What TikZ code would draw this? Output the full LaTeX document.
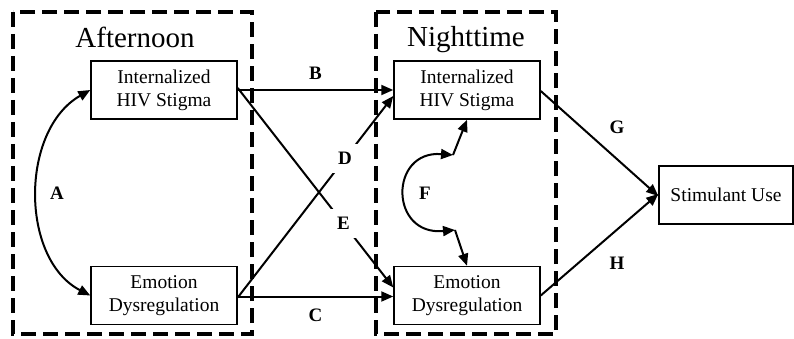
\documentclass[tikz,border=0pt]{standalone}
\usepackage{fontspec}
\setmainfont{Liberation Serif}
\usetikzlibrary{arrows.meta,calc}
\begin{document}
\begin{tikzpicture}[x=1pt,y=-1pt,
  var/.style={draw,line width=1.5pt,minimum width=146pt,minimum height=58pt,inner sep=0pt,align=center,font=\fontsize{19.5}{23}\selectfont},
  grp/.style={draw,line width=3.8pt,dash pattern=on 15pt off 7pt},
  title/.style={font=\fontsize{29}{32}\selectfont,anchor=base},
  lab/.style={font=\fontsize{19}{22}\selectfont\bfseries},
  gaplab/.style={lab,fill=white,inner sep=8pt},
  arr/.style={line width=2pt,-{Triangle[length=12pt,width=10pt]}},
  dbl/.style={line width=2pt,{Triangle[length=12pt,width=10pt]}-{Triangle[length=12pt,width=10pt]}}]
\useasboundingbox (0,0) rectangle (794,339);
% groups
\draw[grp] (13,12) rectangle (252,334);
\draw[grp] (376,12) rectangle (556,334);
\node[title] (aft) at (135,48) {Afternoon};
\node[title] (nig) at (466,47) {Nighttime};
% variables
\node[var] (li) at (164,90) {Internalized\\HIV Stigma};
\node[var] (le) at (164,295.5) {Emotion\\Dysregulation};
\node[var] (ni) at (467,90) {Internalized\\HIV Stigma};
\node[var] (ne) at (467,295.5) {Emotion\\Dysregulation};
\node[var,minimum width=134pt] (su) at (726,195) {Stimulant Use};
% paths
\draw[arr] (li.east) -- node[lab,above=6pt] (lb) {B} (ni.west);
\draw[arr] ([yshift=-1pt]le.east) -- node[lab,below=8pt] (lc) {C} ([yshift=-1pt]ne.west);
\draw[arr] ([yshift=-2pt]le.east) -- node[gaplab,pos=0.69] (ld) {D} ($(ni.west)+(0,6)$);
\draw[arr] ([yshift=2pt]li.east) -- node[gaplab,pos=0.68] (lee) {E} ($(ne.west)+(0,-8)$);
\draw[dbl] (li.west) .. controls (20,130) and (20,259) .. (le.west);
\node[lab] (la) at (57,193) {A};
% F
\coordinate (ft) at (453,155);
\coordinate (fb) at (455,230);
\draw[arr] (ft) -- (ni.south);
\draw[arr] (fb) -- (ne.north);
\draw[dbl] (ft) .. controls (389,150) and (389,236) .. (fb);
\node[lab] (lf) at (425,193) {F};
% G H
\draw[arr] ([yshift=-1pt]ni.east) -- ([yshift=-1pt]su.west);
\draw[arr] (ne.east) -- ([yshift=1pt]su.west);
\node[lab] (lg) at (617,127) {G};
\node[lab] (lh) at (617,263) {H};
\end{tikzpicture}
\end{document}
